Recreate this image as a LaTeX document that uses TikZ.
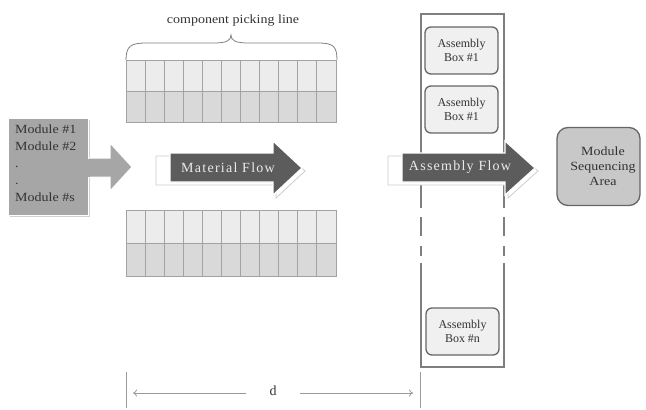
\documentclass[tikz,border=0pt]{standalone}
\usepackage{fontspec}
\setmainfont{Liberation Serif}
\newfontfamily\spacedfont[LetterSpace=9]{Liberation Serif}
\newfontfamily\widefont[FakeStretch=1.12]{Liberation Serif}
\usetikzlibrary{arrows.meta}
\definecolor{gridline}{HTML}{A3A3A3}
\definecolor{gridtop}{HTML}{ECECEC}
\definecolor{gridbot}{HTML}{D9D9D9}
\definecolor{modfill}{HTML}{A6A6A6}
\definecolor{darkarrow}{HTML}{5C5C5C}
\definecolor{boxfill}{HTML}{F0F0F0}
\definecolor{boxedge}{HTML}{666666}
\definecolor{msafill}{HTML}{C8C8C8}
\definecolor{colline}{HTML}{7F7F7F}
\definecolor{dimline}{HTML}{9A9A9A}
\definecolor{txt}{HTML}{333333}
\tikzset{
  abox/.style={draw=boxedge, line width=1.3pt, fill=boxfill, rounded corners=6pt,
    minimum width=73pt, minimum height=47pt, align=center, inner sep=0pt,
    font=\fontsize{12}{14}\selectfont, text=txt},
  msabox/.style={draw=boxedge, line width=1.3pt, fill=msafill, rounded corners=11pt,
    minimum width=83pt, minimum height=78pt, inner sep=0pt},
  msatext/.style={align=center, inner sep=0pt, text=txt,
    font=\widefont\fontsize{12.5}{15}\selectfont},
  flowtext/.style={text=white!92!black, font=\spacedfont\fontsize{14}{16}\selectfont, inner sep=0pt},
  colstyle/.style={draw=colline, line width=1.5pt},
  dimstyle/.style={draw=dimline, line width=0.8pt},
  shadowarrow/.style={fill=white, draw=black!20, line width=0.8pt},
  mainarrow/.style={fill=darkarrow, draw=white, line width=1.2pt},
}
\begin{document}
\begin{tikzpicture}[x=1pt,y=-1pt]
\useasboundingbox (0,0) rectangle (646,410);
% ---- component picking line grids ----
\foreach \yt/\ym/\yb in {60/91/122, 210/243/276}{
  \fill[gridtop] (126,\yt) rectangle (336,\ym);
  \fill[gridbot] (126,\ym) rectangle (336,\yb);
  \foreach \i in {0,...,11}{
    \draw[gridline, line width=0.9pt] ({126+\i*210/11},\yt) -- ({126+\i*210/11},\yb);
  }
  \draw[gridline, line width=0.9pt] (126,\yt) rectangle (336,\yb);
  \draw[gridline, line width=0.9pt] (126,\ym) -- (336,\ym);
}
% brace
\draw[black!50, line width=0.8pt] (126,60) .. controls (126,46) and (131,43) .. (146,43)
  -- (213,43) .. controls (226,43) and (231,41) .. (231,35)
  .. controls (231,41) and (236,43) .. (249,43) -- (318,43)
  .. controls (333,43) and (337,46) .. (337,60);
\node[text=txt, font=\widefont\fontsize{12.5}{14}\selectfont, inner sep=0pt] (cpl) at (233,21) {component picking line};
% ---- module box ----
\fill[black!18] (10,120) rectangle (90,217);
\draw[fill=modfill, draw=white, line width=1pt] (86,158) -- (110,158) -- (110,143) -- (132,167) -- (110,191) -- (110,177) -- (86,177);
\node[fill=modfill, draw=white, line width=1pt, minimum width=80pt, minimum height=97pt, inner sep=0pt] (modbox) at (48,166.5) {};
\fill[modfill] (86,158.5) rectangle (90,176.5);
\node[anchor=north west, align=left, text=txt, font=\widefont\fontsize{12.5}{16.8}\selectfont, inner sep=0pt] (modtext) at (15,125) {Module \#1\\Module \#2\\.\\.\\Module \#s};
% ---- material flow arrow ----
\draw[shadowarrow] (156,156) -- (276,156) -- (276,145) -- (305,171) -- (276,198) -- (276,185) -- (156,185) -- cycle;
\draw[mainarrow] (170,153) -- (273,153) -- (273,141) -- (302,168) -- (273,195) -- (273,182) -- (170,182) -- cycle;
\node[flowtext] (mf) at (228,168) {Material Flow};
% ---- assembly column ----
\draw[colstyle] (421,208) -- (421,14) -- (504,14) -- (504,208);
\draw[colstyle] (421,217) -- (421,236) (504,217) -- (504,236);
\draw[colstyle] (421,246) -- (421,256) (504,246) -- (504,256);
\draw[colstyle] (421,263) -- (421,367) -- (504,367) -- (504,263);
\node[abox] (ab1) at (461.5,50.5) {Assembly\\Box \#1};
\node[abox] (ab2) at (461.5,109.5) {Assembly\\Box \#1};
\node[abox] (abn) at (462.5,331.5) {Assembly\\Box \#n};
% ---- assembly flow arrow ----
\draw[shadowarrow] (388,156) -- (508,156) -- (508,145) -- (538,171) -- (508,198) -- (508,185) -- (388,185) -- cycle;
\draw[mainarrow] (402,153) -- (505,153) -- (505,141) -- (535,168) -- (505,195) -- (505,182) -- (402,182) -- cycle;
\node[flowtext] (af) at (460,167) {Assembly Flow};
% ---- module sequencing area ----
\node[msabox] (msa) at (598.5,166.5) {};
\node[msatext] (msat) at (603,166) {Module\\Sequencing\\Area};
% ---- dimension d ----
\coordinate (dl) at (126,393);
\coordinate (dr) at (420,393);
\draw[dimstyle] (126,372) -- (126,408);
\draw[dimstyle] (420,372) -- (420,408);
\node[text=txt, font=\fontsize{14}{16}\selectfont, minimum width=53pt, inner sep=0pt] (d) at (273,391) {d};
\draw[dimstyle, -{To[length=4pt,width=7pt]}, shorten >=7pt] (d.west |- dl) -- (dl);
\draw[dimstyle, -{To[length=4pt,width=7pt]}, shorten >=7pt] (d.east |- dr) -- (dr);
\end{tikzpicture}
\end{document}
